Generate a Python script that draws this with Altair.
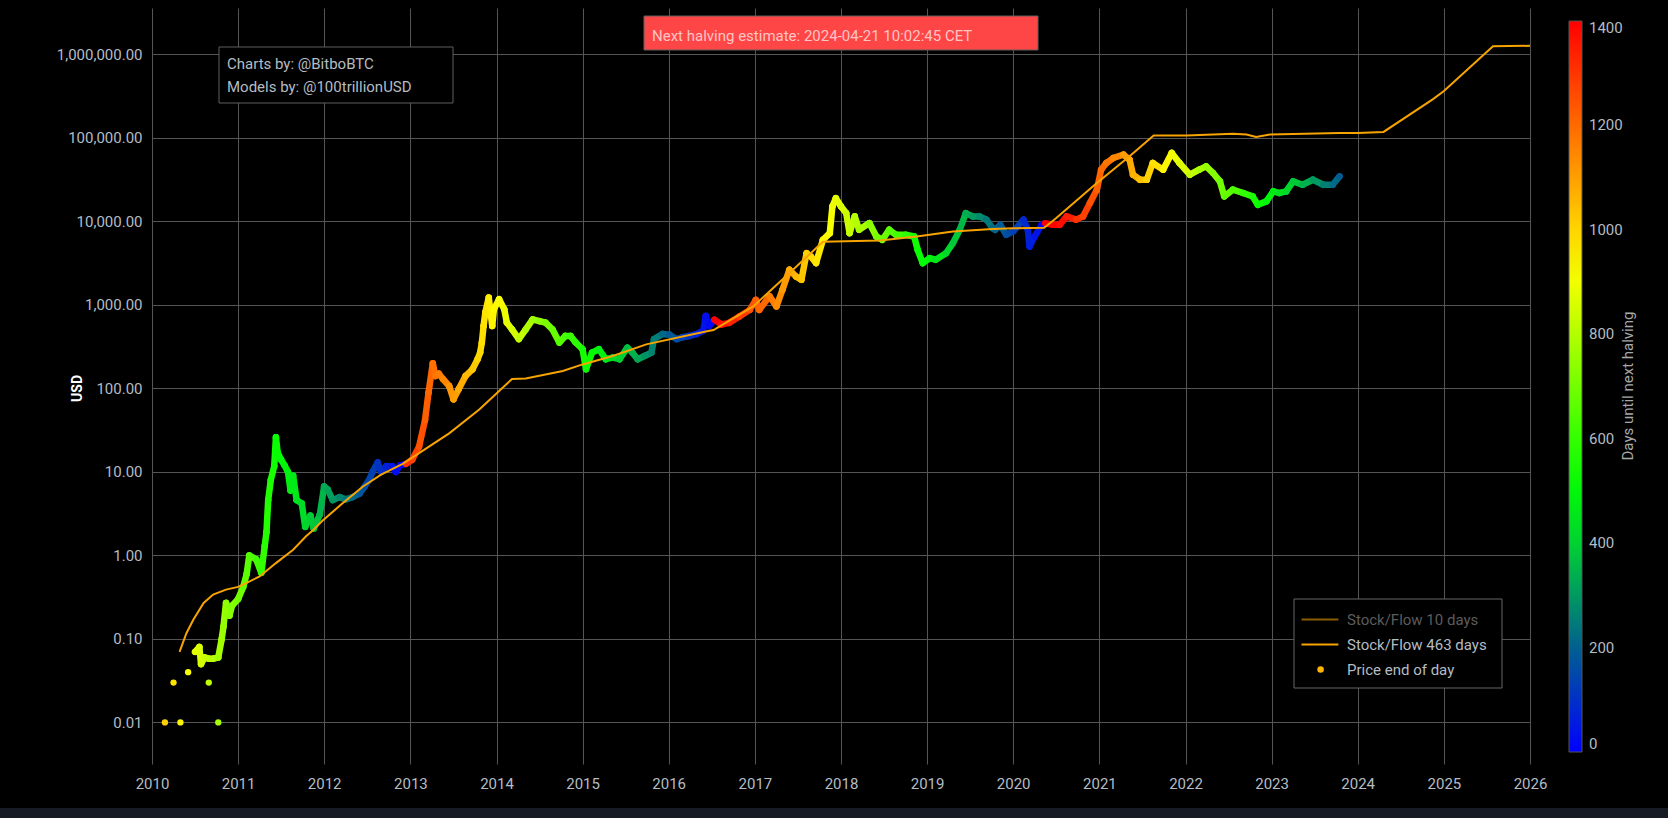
import datetime as dt
import altair as alt
import pandas as pd

# ---------------- data ----------------
halving_dates = ["2012-11-28", "2016-07-09", "2020-05-11", "2024-04-21"]

# isolated early trades (fractional year, USD)
early_year = [2010.15, 2010.25, 2010.33, 2010.42, 2010.66, 2010.77]
early_usd = [0.01, 0.03, 0.01, 0.04, 0.03, 0.01]

# end-of-day price (fractional year, USD)
price_year = [
    2010.50, 2010.55, 2010.57, 2010.61, 2010.66, 2010.71, 2010.77, 2010.81, 2010.83, 2010.86,
    2010.90, 2010.93, 2011.00, 2011.06, 2011.10, 2011.13, 2011.21, 2011.27, 2011.31, 2011.33,
    2011.35, 2011.38, 2011.42, 2011.44, 2011.46, 2011.50, 2011.54, 2011.58, 2011.61, 2011.64,
    2011.68, 2011.74, 2011.78, 2011.84, 2011.88, 2011.95, 2012.00, 2012.04, 2012.10, 2012.18,
    2012.25, 2012.33, 2012.41, 2012.47, 2012.52, 2012.56, 2012.62, 2012.66, 2012.72, 2012.79,
    2012.83, 2012.88, 2012.95, 2013.02, 2013.10, 2013.17, 2013.21, 2013.26, 2013.29, 2013.33,
    2013.38, 2013.45, 2013.50, 2013.56, 2013.64, 2013.72, 2013.78, 2013.81, 2013.83, 2013.85,
    2013.87, 2013.91, 2013.95, 2013.97, 2014.03, 2014.09, 2014.12, 2014.18, 2014.26, 2014.34,
    2014.42, 2014.50, 2014.57, 2014.65, 2014.73, 2014.80, 2014.86, 2014.92, 2015.00, 2015.04,
    2015.11, 2015.19, 2015.27, 2015.35, 2015.43, 2015.52, 2015.58, 2015.64, 2015.72, 2015.80,
    2015.83, 2015.93, 2016.01, 2016.09, 2016.16, 2016.24, 2016.32, 2016.40, 2016.43, 2016.47,
    2016.53, 2016.61, 2016.70, 2016.82, 2016.94, 2017.01, 2017.05, 2017.17, 2017.25, 2017.32,
    2017.40, 2017.48, 2017.54, 2017.60, 2017.65, 2017.71, 2017.79, 2017.87, 2017.90, 2017.94,
    2018.00, 2018.06, 2018.10, 2018.16, 2018.21, 2018.33, 2018.41, 2018.48, 2018.56, 2018.64,
    2018.75, 2018.85, 2018.89, 2018.95, 2019.03, 2019.10, 2019.22, 2019.30, 2019.38, 2019.45,
    2019.53, 2019.61, 2019.69, 2019.76, 2019.79, 2019.85, 2019.92, 2020.00, 2020.12, 2020.17,
    2020.19, 2020.25, 2020.33, 2020.37, 2020.46, 2020.54, 2020.62, 2020.73, 2020.81, 2020.89,
    2020.97, 2021.02, 2021.08, 2021.16, 2021.28, 2021.35, 2021.39, 2021.47, 2021.55, 2021.62,
    2021.74, 2021.84, 2021.93, 2022.05, 2022.16, 2022.24, 2022.32, 2022.40, 2022.45, 2022.55,
    2022.67, 2022.78, 2022.84, 2022.94, 2023.02, 2023.09, 2023.17, 2023.25, 2023.36, 2023.48,
    2023.60, 2023.71, 2023.79,
]
price_usd = [
    0.07, 0.08, 0.05, 0.06, 0.058, 0.058, 0.06, 0.10, 0.14, 0.27,
    0.19, 0.25, 0.30, 0.42, 0.60, 1.00, 0.90, 0.62, 1.30, 1.90,
    4.6, 8.0, 11.7, 26, 17, 14, 12, 10, 6.0, 9.0,
    4.6, 4.2, 2.2, 3.0, 2.1, 3.1, 6.7, 6.2, 4.6, 5.0,
    4.7, 5.0, 5.5, 6.7, 8.0, 10, 13, 10, 11.7, 11.7,
    10, 12, 12.5, 14, 20, 42, 89, 200, 141, 150,
    129, 107, 74, 98, 141, 169, 224, 269, 355, 560,
    810, 1225, 560, 890, 1170, 890, 614, 510, 390, 510,
    670, 640, 614, 510, 355, 425, 425, 355, 295, 170,
    268, 295, 224, 234, 224, 308, 268, 224, 245, 268,
    390, 450, 440, 390, 410, 425, 447, 490, 740, 560,
    668, 583, 610, 728, 873, 1150, 873, 1270, 960, 1520,
    2640, 2180, 2000, 4160, 3800, 3170, 6030, 7240, 15100, 19000,
    15100, 12600, 7240, 11500, 7950, 9560, 6610, 6030, 7950, 6920,
    6920, 6610, 4590, 3170, 3640, 3480, 4160, 5500, 7950, 12600,
    11500, 11500, 10500, 8320, 7940, 9120, 6920, 7590, 10500, 7940,
    5010, 6610, 9120, 9500, 9120, 9120, 11500, 10500, 11500, 16600,
    24000, 41700, 50100, 57500, 63100, 55000, 36300, 31600, 31600, 50100,
    41700, 66100, 50100, 36300, 41700, 45700, 38000, 30200, 20000, 24000,
    21900, 20000, 15800, 17400, 23000, 21900, 22900, 30200, 27500, 31600,
    27500, 27500, 34700,
]

# Stock/Flow 463 days model (fractional year, USD)
s2f_year = [
    2010.32, 2010.40, 2010.48, 2010.60, 2010.71, 2010.86, 2011.00, 2011.10, 2011.25, 2011.44,
    2011.64, 2011.79, 2011.87, 2011.98, 2012.20, 2012.45, 2012.66, 2012.91, 2013.45, 2013.80,
    2014.18, 2014.34, 2014.77, 2015.00, 2015.35, 2015.74, 2016.43, 2016.52, 2016.98, 2017.36,
    2017.79, 2018.45, 2018.88, 2019.30, 2019.76, 2020.00, 2020.36, 2020.50, 2020.97, 2021.35,
    2021.63, 2022.01, 2022.55, 2022.71, 2022.82, 2022.98, 2023.79, 2024.00, 2024.30, 2024.87,
    2025.00, 2025.57, 2026.00,
]
s2f_usd = [
    0.07, 0.117, 0.17, 0.27, 0.34, 0.39, 0.42, 0.47, 0.56, 0.81,
    1.17, 1.7, 2.0, 2.6, 4.1, 6.7, 9.3, 12.5, 29, 56,
    130, 132, 162, 194, 245, 337, 480, 500, 960, 2200,
    5700, 5930, 6610, 7600, 8100, 8300, 8400, 11000, 28800, 60300,
    107000, 107000, 112000, 110000, 103000, 110000, 115000, 115000, 118000, 290000,
    364000, 1250000, 1270000,
]

year_ticks = list(range(2010, 2027))
usd_ticks = [0.01, 0.1, 1, 10, 100, 1000, 10000, 100000, 1000000]
days_ticks = [0, 200, 400, 600, 800, 1000, 1200, 1400]
days_stops = [0, 200, 400, 520, 920, 1400]
days_colors = ["#0000ff", "#00608f", "#00d232", "#00ff00", "#ffff00", "#ff0000"]

legend_series = ["Stock/Flow 10 days", "Stock/Flow 463 days", "Price end of day"]
legend_colors = ["#8a5e00", "#f7a400", "#ffb400"]

credit_lines = ["Charts by: @BitboBTC", "Models by: @100trillionUSD"]
halving_note = "Next halving estimate: 2024-04-21 10:02:45 CET"
colorbar_title = "Days until next halving"
y_title = "USD"

# ---------------- helpers ----------------
FONT = "Roboto"
LABEL = "#b4bcc4"
GRID = "#555555"


def to_date(fy):
    y = int(fy)
    a = dt.datetime(y, 1, 1)
    b = dt.datetime(y + 1, 1, 1)
    return a + (b - a) * (fy - y)


halvings = [dt.datetime.fromisoformat(h) for h in halving_dates]


def days_until(d):
    for h in halvings:
        if h > d:
            return (h - d).days
    return 0


def iso(d):
    return d.strftime("%Y-%m-%dT%H:%M:%S")


all_dates = [to_date(y) for y in early_year + price_year]
points_df = pd.DataFrame({
    "date": [iso(d) for d in all_dates],
    "usd": early_usd + price_usd,
    "days": [days_until(d) for d in all_dates],
})

# each pair of consecutive price readings is joined by a short thick segment
main_dates = [to_date(y) for y in price_year]
seg_df = pd.DataFrame({
    "date": [iso(d) for d in main_dates[:-1]],
    "date2": [iso(d) for d in main_dates[1:]],
    "usd": price_usd[:-1],
    "usd2": price_usd[1:],
    "days": [days_until(d) for d in main_dates[:-1]],
})

s2f_df = pd.DataFrame({
    "date": [iso(to_date(y)) for y in s2f_year],
    "usd": s2f_usd,
})

legend_df = pd.DataFrame({
    "series": legend_series,
    "date": [None] * len(legend_series),
    "usd": [None] * len(legend_series),
})

one = pd.DataFrame({"k": [0]})

# ---------------- scales / axes ----------------
x_scale = alt.Scale(
    domain=[alt.DateTime(year=2010, month=1, date=1), alt.DateTime(year=2026, month=1, date=1)],
    nice=False,
)
y_scale = alt.Scale(type="log", domain=[0.00318, 3.6e6], nice=False)

x_axis = alt.Axis(
    values=[alt.DateTime(year=y, month=1, date=1) for y in year_ticks],
    format="%Y", grid=True, gridColor=GRID, gridWidth=1, ticks=False, domain=False,
    labelPadding=12, labelFontSize=15, labelColor=LABEL, labelFont=FONT,
    labelFlush=False, labelOverlap=False, title=None,
)
y_axis = alt.Axis(
    values=usd_ticks, format=",.2f", grid=True, gridColor=GRID, gridWidth=1,
    ticks=False, domain=False, labelPadding=10, labelFontSize=15,
    labelColor=LABEL, labelFont=FONT,
    title=y_title, titleAngle=270, titleX=-75, titleY=380, titleColor="#ffffff",
    titleFontSize=14, titleFontWeight="bold", titleFont=FONT,
    titleAlign="center", titleBaseline="middle",
)

X = alt.X("date:T", scale=x_scale, axis=x_axis)
Y = alt.Y("usd:Q", scale=y_scale, axis=y_axis)

color_scale = alt.Scale(domain=days_stops, range=days_colors, interpolate="rgb")
grad_legend = alt.Legend(
    type="gradient", title=None, orient="none", legendX=1417, legendY=13,
    direction="vertical", format="d",
    gradientLength=731, gradientThickness=13, gradientStrokeColor="#555555",
    gradientStrokeWidth=1, values=days_ticks, labelColor=LABEL, labelFontSize=15,
    labelFont=FONT, labelOffset=7, labelBaseline="middle", labelOverlap=False, padding=0,
)

line_path = "M-5,0L1.15,0"
dot_path = "M-2.2,0A0.38,0.38,0,1,1,-1.44,0A0.38,0.38,0,1,1,-2.2,0Z"
sym_legend = alt.Legend(
    title=None, orient="none", legendX=1172, legendY=604, direction="vertical",
    symbolSize=144, symbolStrokeWidth=2, symbolOpacity=1, labelFontSize=15, labelFont=FONT,
    labelColor={"expr": "datum.label == 'Stock/Flow 10 days' ? '#5c5c5c' : '#b4bcc4'"},
    labelOffset=8, rowPadding=9, padding=0,
)
ser_scale = alt.Scale(domain=legend_series, range=legend_colors)
shape_scale = alt.Scale(domain=legend_series, range=[line_path, line_path, dot_path])

# ---------------- layers ----------------
segments = alt.Chart(seg_df).mark_rule(strokeWidth=6.5, strokeCap="round").encode(
    x=X, x2=alt.X2("date2"), y=Y, y2=alt.Y2("usd2"),
    color=alt.Color("days:Q", scale=color_scale, legend=None),
)
points = alt.Chart(points_df).mark_circle(size=40, opacity=1).encode(
    x=X, y=Y, color=alt.Color("days:Q", scale=color_scale, legend=grad_legend)
)
s2f = alt.Chart(s2f_df).mark_line(color="#f7a400", strokeWidth=2).encode(x=X, y=Y)
legend_layer = alt.Chart(legend_df).mark_point(strokeWidth=2, opacity=1).encode(
    x=X, y=Y,
    fill=alt.Fill("series:N", scale=ser_scale, legend=sym_legend),
    stroke=alt.Stroke("series:N", scale=ser_scale, legend=sym_legend),
    shape=alt.Shape("series:N", scale=shape_scale, legend=sym_legend),
)

credit_box = alt.Chart(one).mark_rect(fill="#000000", stroke="#5f5f5f", strokeWidth=1).encode(
    x=alt.value(67), x2=alt.value(301), y=alt.value(39), y2=alt.value(95)
)
credit1 = alt.Chart(one).mark_text(
    text=credit_lines[0], align="left", baseline="alphabetic", font=FONT, fontSize=15, color="#b4bcc4"
).encode(x=alt.value(75), y=alt.value(61))
credit2 = alt.Chart(one).mark_text(
    text=credit_lines[1], align="left", baseline="alphabetic", font=FONT, fontSize=15, color="#b4bcc4"
).encode(x=alt.value(75), y=alt.value(84))

note_box = alt.Chart(one).mark_rect(fill="#ff4646", stroke="#5f5f5f", strokeWidth=1).encode(
    x=alt.value(492), x2=alt.value(886), y=alt.value(8), y2=alt.value(42)
)
note_text = alt.Chart(one).mark_text(
    text=halving_note, align="left", baseline="alphabetic", font=FONT, fontSize=15, color="#ffc4c4"
).encode(x=alt.value(500), y=alt.value(33))

legend_box = alt.Chart(one).mark_rect(fill="#000000", stroke="#666666", strokeWidth=1).encode(
    x=alt.value(1142), x2=alt.value(1350), y=alt.value(591), y2=alt.value(680)
)
cbar_title = alt.Chart(one).mark_text(
    text=colorbar_title, angle=270, align="center", baseline="middle", font=FONT,
    fontSize=15, color="#a8a8a8"
).encode(x=alt.value(1476), y=alt.value(378))

chart = alt.layer(
    segments, points, s2f, legend_layer,
    credit_box, credit1, credit2, note_box, note_text, legend_box, cbar_title,
).resolve_legend(
    color="independent"
).properties(
    width=1378, height=756,
    padding={"left": 152, "top": 8, "right": 138, "bottom": 44},
    autosize=alt.AutoSizeParams(type="none"),
    background="#000000",
).configure_view(stroke="transparent")

chart.save(
    "out.html",
    embed_options={
        "renderer": "svg",
        "actions": False,
        "defaultStyle": "body{margin:0;background:#161b26;overflow:hidden}",
    },
)
